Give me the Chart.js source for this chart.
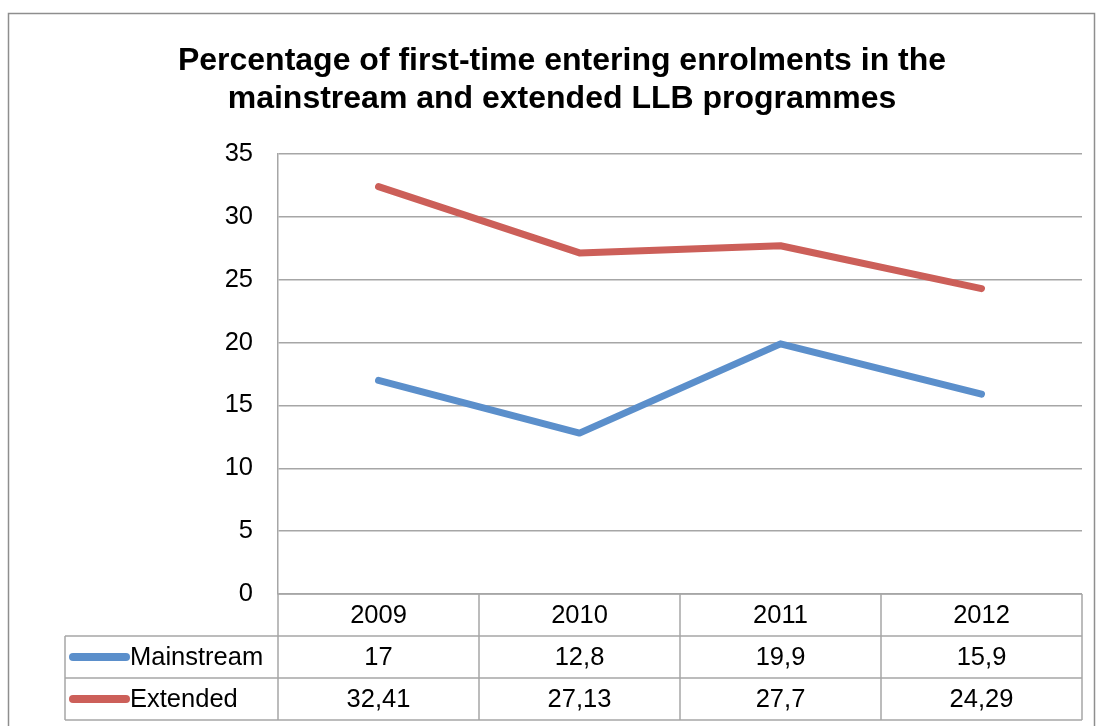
<!DOCTYPE html>
<html><head><meta charset="utf-8">
<script src="https://cdn.jsdelivr.net/npm/chart.js@4/dist/chart.umd.min.js"></script>
<style>html,body{margin:0;padding:0;background:#fff;}#wrap{width:1103px;height:726px;position:relative;}</style>
</head><body><div id="wrap"><canvas id="c" width="1103" height="726"></canvas></div>
<script>
const categories = ['2009', '2010', '2011', '2012'];
const mainstream = [17, 12.8, 19.9, 15.9];
const extended = [32.41, 27.13, 27.7, 24.29];
const seriesNames = ['Mainstream', 'Extended'];
const titleLines = ['Percentage of first-time entering enrolments in the', 'mainstream and extended LLB programmes'];
const yTicks = [0, 5, 10, 15, 20, 25, 30, 35];

const FONT = '"Liberation Sans", Arial, sans-serif';
const BLUE = '#5B8FCB';
const RED = '#CC5F59';
const GRID = '#A6A6A6';
const FS = 25.5;

function fmt(v){ return String(v).replace('.', ','); }

const decor = {
  id: 'decor',
  beforeDraw(chart){
    const ctx = chart.ctx;
    ctx.save();
    ctx.fillStyle = '#fff';
    ctx.fillRect(0,0,chart.width,chart.height);
    ctx.strokeStyle = '#8E8E8E';
    ctx.lineWidth = 1.5;
    ctx.strokeRect(8.5, 13.5, 1086, 740);
    // title
    ctx.fillStyle = '#000';
    ctx.font = 'bold 32px ' + FONT;
    ctx.textAlign = 'center';
    ctx.textBaseline = 'middle';
    ctx.fillText(titleLines[0], 562, 61);
    ctx.fillText(titleLines[1], 562, 99);
    ctx.restore();
  },
  afterDraw(chart){
    const ctx = chart.ctx;
    const xs = chart.scales.x;
    const area = chart.chartArea;
    const n = categories.length;
    const colW = (area.right - area.left) / n;
    const rowH = 42;
    const top = area.bottom;
    const tableLeft = 65;
    ctx.save();
    ctx.strokeStyle = GRID;
    ctx.lineWidth = 1.5;
    ctx.beginPath();
    ctx.moveTo(area.left, top); ctx.lineTo(area.right, top);
    for (let r = 1; r <= 3; r++){
      ctx.moveTo(tableLeft, top + r*rowH); ctx.lineTo(area.right, top + r*rowH);
    }
    ctx.moveTo(tableLeft, top + rowH); ctx.lineTo(tableLeft, top + 3*rowH);
    for (let i = 0; i <= n; i++){
      const x = area.left + i*colW;
      ctx.moveTo(x, top); ctx.lineTo(x, top + 3*rowH);
    }
    ctx.stroke();
    ctx.fillStyle = '#000';
    ctx.font = FS + 'px ' + FONT;
    ctx.textAlign = 'center';
    ctx.textBaseline = 'middle';
    const rows = [mainstream, extended];
    for (let i = 0; i < n; i++){
      const cx = xs.getPixelForValue(i);
      ctx.fillText(categories[i], cx, top + rowH/2 + 1);
      ctx.fillText(fmt(rows[0][i]), cx, top + rowH*1.5 + 1);
      ctx.fillText(fmt(rows[1][i]), cx, top + rowH*2.5 + 1);
    }
    const colors = [BLUE, RED];
    for (let r = 0; r < 2; r++){
      const cy = top + rowH*(1.5 + r);
      ctx.strokeStyle = colors[r];
      ctx.lineWidth = 8;
      ctx.lineCap = 'round';
      ctx.beginPath();
      ctx.moveTo(73, cy); ctx.lineTo(126, cy);
      ctx.stroke();
      ctx.fillStyle = '#000';
      ctx.textAlign = 'left';
      ctx.fillText(seriesNames[r], 130, cy + 1);
    }
    ctx.restore();
  }
};

new Chart(document.getElementById('c'), {
  type: 'line',
  data: {
    labels: categories,
    datasets: [
      { label: seriesNames[0], data: mainstream, borderColor: BLUE, borderWidth: 7, pointRadius: 0, tension: 0, borderCapStyle: 'round', borderJoinStyle: 'round' },
      { label: seriesNames[1], data: extended, borderColor: RED, borderWidth: 7, pointRadius: 0, tension: 0, borderCapStyle: 'round', borderJoinStyle: 'round' }
    ]
  },
  options: {
    responsive: false,
    animation: false,
    events: [],
    layout: { padding: { top: 154, bottom: 132, left: 0, right: 21 } },
    plugins: { legend: { display: false }, title: { display: false }, tooltip: { enabled: false } },
    scales: {
      x: { display: false, offset: true },
      y: {
        min: 0, max: 35,
        afterFit(s){ s.width = 278; },
        afterBuildTicks(s){ s.ticks = yTicks.map(v => ({ value: v })); },
        grid: { color: GRID, lineWidth: 1.5, drawTicks: false },
        border: { color: GRID, width: 1.5 },
        ticks: { color: '#000', font: { family: FONT, size: FS }, padding: 25 }
      }
    }
  },
  plugins: [decor]
});
</script>
</body></html>
